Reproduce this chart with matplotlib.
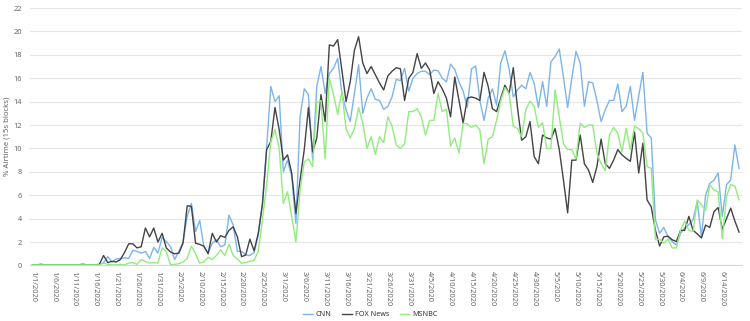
import numpy as np
import pandas as pd
import matplotlib
matplotlib.use("Agg")
import matplotlib.pyplot as plt

plt.rcParams['font.family'] = ['Noto Sans', 'DejaVu Sans']

# --- data: % airtime per day, 1/1/2020 onward ---
start_date = '2020-01-01'

cnn = [0.05, 0.05, 0.05, 0.05, 0.05, 0.05, 0.05, 0.05, 0.05, 0.05, 0.05, 0.05, 0.15, 0.05, 0.05, 0.05, 0.05,
       0.25, 0.75, 0.3, 0.55, 0.6, 0.65, 0.6, 1.3, 1.2, 1.05, 1.2, 0.6, 1.55,
       1.05, 2.4, 2.05, 1.6, 0.5, 1.2, 2.0, 4.2, 5.3, 2.9,
       3.85, 1.6, 1.05, 1.9, 2.2, 1.6, 1.75, 4.3, 3.45, 1.2,
       1.2, 0.9, 0.85, 1.1, 2.6, 5.4, 10.1, 15.3, 14.0, 14.5,
       8.0, 9.0, 7.6, 3.6, 12.7, 15.1, 14.6, 9.0, 15.3, 17.0,
       14.7, 16.4, 16.85, 17.7, 14.7, 13.3, 12.3, 14.7, 17.15, 13.0,
       14.3, 15.1, 14.2, 14.1, 13.35, 13.6, 14.4, 15.9, 15.8, 16.85,
       14.9, 16.0, 16.4, 16.6, 16.6, 16.3, 16.7, 16.65, 16.0, 15.7,
       17.2, 16.75, 15.7, 14.9, 13.5, 16.8, 17.05, 14.1, 12.4, 14.3,
       15.1, 13.7, 17.3, 18.35, 16.8, 14.4, 15.0, 15.4, 15.1, 16.5,
       15.55, 13.5, 15.7, 13.6, 17.4, 17.85, 18.5, 16.1, 13.5, 16.0,
       18.3, 17.3, 13.6, 15.7, 15.6, 14.1, 12.3, 13.3, 14.1, 14.1,
       15.5, 13.15, 13.6, 15.3, 12.4, 14.5, 16.5, 11.3, 10.9, 3.9,
       2.75, 3.25, 2.45, 2.05, 1.75, 2.75, 3.2, 3.5, 3.9, 5.45,
       2.45, 6.0, 7.0, 7.3, 7.9, 4.2, 6.9, 7.3, 10.3, 8.3]

fox = [0.05, 0.05, 0.1, 0.05, 0.05, 0.05, 0.05, 0.05, 0.05, 0.05, 0.05, 0.05, 0.05, 0.05, 0.05, 0.05, 0.1,
       0.85, 0.25, 0.35, 0.3, 0.5, 1.1, 1.85, 1.85, 1.5, 1.6, 3.2, 2.45, 3.2,
       2.0, 2.75, 1.5, 1.15, 1.0, 1.05, 1.9, 5.1, 5.05, 1.9,
       1.8, 1.65, 1.0, 2.75, 2.0, 2.55, 2.4, 3.0, 3.3, 2.45,
       0.75, 0.9, 2.25, 1.25, 2.75, 5.2, 9.9, 10.6, 13.5, 11.6,
       9.0, 9.45, 7.9, 4.45, 7.3, 9.9, 13.5, 9.7, 10.9, 14.6,
       12.3, 18.85, 18.75, 19.3, 16.7, 14.0, 15.7, 18.4, 19.55, 17.3,
       16.4, 17.0, 16.3, 15.6, 15.0, 16.2, 16.6, 16.9, 16.8, 14.1,
       16.0, 16.5, 18.1, 16.85, 17.3, 16.7, 14.7, 15.7, 15.1, 14.3,
       12.7, 16.1, 14.1, 12.15, 14.3, 14.4, 14.3, 14.1, 16.5, 15.3,
       13.4, 13.15, 14.3, 15.4, 14.7, 16.9, 13.5, 10.7, 11.0, 12.3,
       9.3, 8.7, 11.15, 10.9, 10.8, 11.7, 9.9, 7.3, 4.5, 9.0,
       9.0, 11.15, 8.7, 8.15, 7.1, 8.45, 10.8, 8.7, 8.3, 9.0,
       9.9, 9.45, 9.15, 8.9, 11.4, 7.9, 10.45, 5.6, 5.0, 3.0,
       1.67, 2.45, 2.5, 2.2, 2.05, 3.0, 3.0, 4.2, 3.0, 2.7,
       2.35, 3.45, 3.25, 4.6, 4.95, 3.1, 4.0, 4.9, 3.8, 2.85]

msnbc = [0.05, 0.05, 0.05, 0.05, 0.05, 0.05, 0.05, 0.05, 0.05, 0.05, 0.05, 0.05, 0.05, 0.05, 0.05, 0.05, 0.05,
         0.2, 0.1, 0.05, 0.05, 0.1, 0.05, 0.2, 0.25, 0.1, 0.5, 0.35, 0.2, 0.25,
         0.2, 1.5, 1.2, 0.05, 0.1, 0.15, 0.3, 0.6, 1.65, 1.0,
         0.2, 0.3, 0.7, 0.5, 0.85, 1.35, 0.85, 1.8, 0.85, 0.55,
         0.2, 0.25, 0.35, 0.45, 1.2, 3.9, 6.9, 10.6, 11.6, 10.0,
         5.3, 6.3, 4.2, 2.0, 6.45, 8.85, 9.1, 8.45, 13.9, 14.1,
         9.1, 16.0, 14.6, 12.9, 14.9, 11.7, 10.9, 11.7, 13.5, 12.15,
         10.0, 11.0, 9.5, 11.0, 10.5, 12.7, 11.9, 10.3, 10.0, 10.4,
         13.15, 13.15, 13.4, 12.7, 11.15, 12.4, 12.4, 14.7, 13.15, 13.35,
         10.2, 10.9, 9.6, 12.15, 12.1, 11.8, 12.0, 11.6, 8.7, 10.8,
         11.0, 12.4, 14.1, 15.2, 14.7, 11.9, 11.7, 11.0, 13.3, 14.05,
         13.6, 11.8, 12.2, 10.0, 10.0, 15.0, 12.7, 10.4, 9.9, 9.9,
         9.1, 12.15, 11.8, 12.0, 12.0, 9.6, 8.7, 8.1, 11.15, 11.8,
         11.3, 9.7, 11.7, 9.9, 11.9, 11.7, 11.3, 8.45, 8.3, 2.2,
         2.25, 1.9, 2.25, 1.5, 1.5, 3.0, 3.8, 3.0, 2.9, 5.6,
         5.2, 4.7, 6.9, 6.45, 6.3, 2.3, 5.9, 6.9, 6.8, 5.6]

dates = pd.date_range(start_date, periods=len(cnn), freq='D')
date_labels = [f"{d.month}/{d.day}/{d.year}" for d in dates]
x = np.arange(len(dates))

# --- figure ---
fig = plt.figure(figsize=(7.5, 3.21), dpi=100)
ax = fig.add_axes([0.04, 0.173, 0.9493, 0.802])

ax.plot(x, cnn, color='#7cb5ec', lw=1.0, label='CNN')
ax.plot(x, fox, color='#434348', lw=1.0, label='FOX News')
ax.plot(x, msnbc, color='#90ed7d', lw=1.0, label='MSNBC')

ax.set_ylim(0, 22)
ax.set_yticks(np.arange(0, 23, 2))
ax.set_xlim(-0.6, len(x) - 0.3)
ax.set_xticks(x[::5])
ax.set_xticklabels(date_labels[::5], rotation=-90)

ax.grid(axis='y', color='#e6e6e6', lw=0.8)
ax.set_axisbelow(True)
for s in ['top', 'right', 'left']:
    ax.spines[s].set_visible(False)
ax.spines['bottom'].set_color('#ccd6eb')
ax.spines['bottom'].set_linewidth(0.8)
ax.tick_params(axis='both', length=0, labelsize=5.3, labelcolor='#666666')
ax.tick_params(axis='x', pad=4)
ax.tick_params(axis='y', pad=6)

ax.set_ylabel('% Airtime (15s blocks)', fontsize=5.6, color='#666666', labelpad=2)

fig.legend(loc='lower center', bbox_to_anchor=(0.494, -0.012), ncol=3, frameon=False,
           fontsize=5.2, handlelength=1.3, handletextpad=0.4, columnspacing=1.5,
           labelcolor='#333333')

fig.savefig('out.png', dpi=100)
